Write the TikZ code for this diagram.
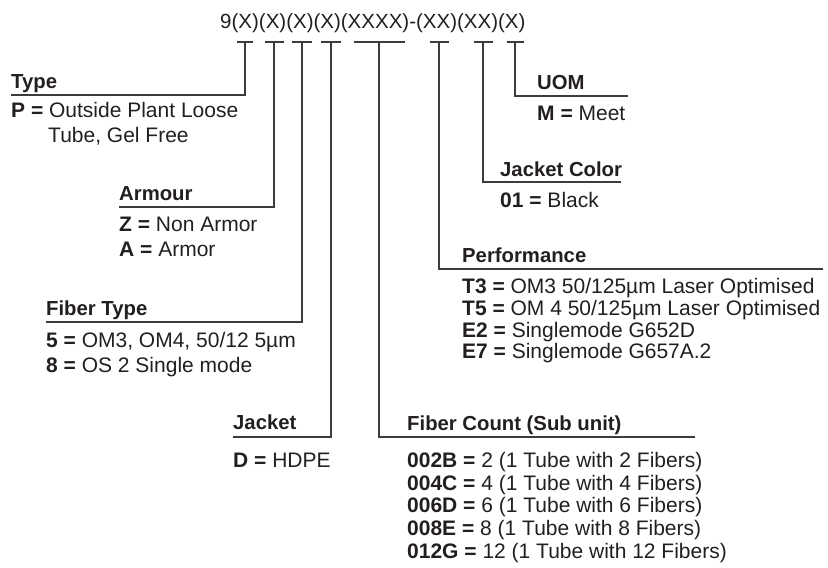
\documentclass[tikz,border=0pt]{standalone}
\usepackage{fontspec}
\setmainfont{Liberation Sans}

\definecolor{inkText}{HTML}{231F20}
\definecolor{inkLine}{HTML}{3C3C3C}

\tikzset{
  code/.style={anchor=base west,inner sep=0pt,font=\fontsize{20.5}{23}\selectfont,text=inkText},
  head/.style={anchor=base west,inner sep=0pt,font=\fontsize{20.3}{23}\selectfont\bfseries,text=inkText},
  val/.style={anchor=base west,inner sep=0pt,font=\fontsize{21}{23}\selectfont,text=inkText},
  lead/.style={draw=inkLine,line width=1.3pt},
}

\begin{document}
\begin{tikzpicture}[x=1pt,y=-1pt]
\useasboundingbox (0,0) rectangle (828,568);

% code string
\node[code] (code) at (220,28) {9(X)(X)(X)(X)(XXXX)-(XX)(XX)(X)};

% ticks under each position
\foreach \name/\xx/\hw in {t1/245/8,t2/274/9.5,t3/302/10,t4/331/10,t5/379/25.5,t6/439/9.5,t7/483/9.5,t8/515/8.5}{
  \coordinate (\name) at (\xx,42);
  \draw[lead] (\xx-\hw,42) -- (\xx+\hw,42);
}

% Type
\coordinate (typeEnd) at (11,95);
\node[head] (type) at (11,88) {Type};
\node[val] (typeP) at (11,117) {\textbf{P =} Outside Plant Loose};
\node[val] (typeP2) at (48,142) {Tube, Gel Free};
\draw[lead] (t1) |- (typeEnd);

% Armour
\coordinate (armEnd) at (119,207);
\node[head] (arm) at (119,200) {Armour};
\node[val] (armZ) at (119,231) {\textbf{Z =} Non Armor};
\node[val] (armA) at (119,256) {\textbf{A =} Armor};
\draw[lead] (t2) |- (armEnd);

% Fiber Type
\coordinate (ftEnd) at (46,322);
\node[head] (ft) at (46,315) {Fiber Type};
\node[val] (ft5) at (46,347) {\textbf{5 =} OM3, OM4, 50/12 5µm};
\node[val] (ft8) at (46,372) {\textbf{8 =} OS 2 Single mode};
\draw[lead] (t3) |- (ftEnd);

% Jacket
\coordinate (jkEnd) at (233,437);
\node[head] (jk) at (233,429) {Jacket};
\node[val] (jkD) at (233,467) {\textbf{D =} HDPE};
\draw[lead] (t4) |- (jkEnd);

% Fiber Count
\coordinate (fcEnd) at (695,437);
\node[head] (fc) at (407,430) {Fiber Count (Sub unit)};
\node[val] (fc2) at (407,467) {\textbf{002B =} 2 (1 Tube with 2 Fibers)};
\node[val] (fc4) at (407,490) {\textbf{004C =} 4 (1 Tube with 4 Fibers)};
\node[val] (fc6) at (407,512) {\textbf{006D =} 6 (1 Tube with 6 Fibers)};
\node[val] (fc8) at (407,535) {\textbf{008E =} 8 (1 Tube with 8 Fibers)};
\node[val] (fc12) at (407,558) {\textbf{012G =} 12 (1 Tube with 12 Fibers)};
\draw[lead] (t5) |- (fcEnd);

% Performance
\coordinate (pfEnd) at (823,269);
\node[head] (pf) at (462,262) {Performance};
\node[val] (pfT3) at (462,293) {\textbf{T3 =} OM3 50/125µm Laser Optimised};
\node[val] (pfT5) at (462,315) {\textbf{T5 =} OM 4 50/125µm Laser Optimised};
\node[val] (pfE2) at (462,337) {\textbf{E2 =} Singlemode G652D};
\node[val] (pfE7) at (462,358) {\textbf{E7 =} Singlemode G657A.2};
\draw[lead] (t6) |- (pfEnd);

% Jacket Color
\coordinate (jcEnd) at (621,182);
\node[head] (jc) at (500,176) {Jacket Color};
\node[val] (jc01) at (500,207) {\textbf{01 =} Black};
\draw[lead] (t7) |- (jcEnd);

% UOM
\coordinate (uomEnd) at (628,96);
\node[head] (uom) at (537,89) {UOM};
\node[val] (uomM) at (537,120) {\textbf{M =} Meet};
\draw[lead] (t8) |- (uomEnd);
\end{tikzpicture}
\end{document}
